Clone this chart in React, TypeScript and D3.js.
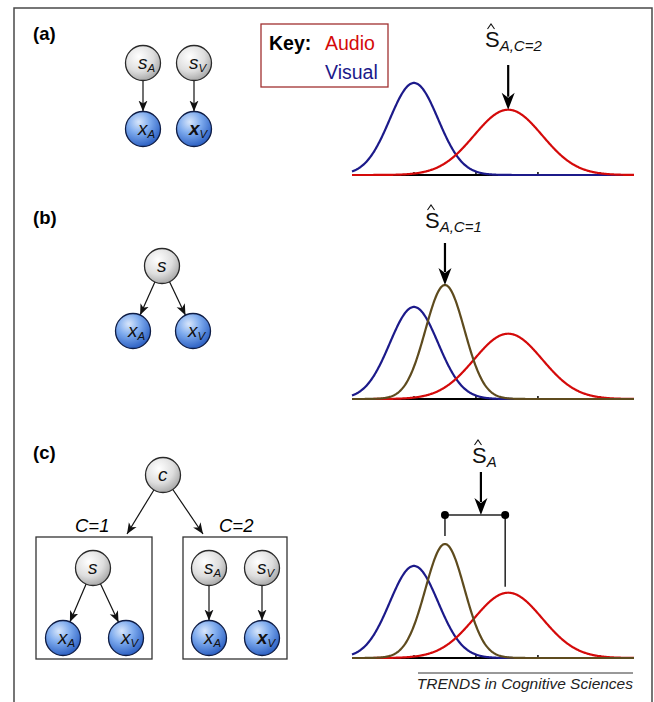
import React from 'react';
import * as d3 from 'd3';

// values
const panelLabels = ['(a)', '(b)', '(c)'];
const curveNames = ['Visual', 'Audio', 'Combined'];
const curveMeans = [0, 1.52, 0.5];
const curveSDs = [0.39, 0.55, 0.315];
const curveColors = ['#1c1a8a', '#d40a0a', '#5e4b1e'];
const panelCurves = [[0, 1], [0, 1, 2], [0, 1, 2]];
const xTicks = [0, 1, 2, 3];
const estimateSubs = ['A,C=2', 'A,C=1', 'A'];
const estimateValues = [1.52, 0.5, 1.08];
const keyLabels = ['Audio', 'Visual'];
const keyColors = ['#d40a0a', '#1c1a8a'];

const FONT = "'Liberation Sans', Arial, Helvetica, sans-serif";
const R = 17.5;

const baselines = [175, 399, 658];
const xScale = d3.scaleLinear().domain([-1, 3.55]).range([352, 634]);
const yScaleFor = (b: number) => d3.scaleLinear().domain([0, 1]).range([b, b - 90]);

const pdf = (x: number, m: number, s: number) =>
  Math.exp(-0.5 * ((x - m) / s) ** 2) / (s * Math.sqrt(2 * Math.PI));

const samples = d3.range(-1, 3.5501, 0.01);

const Node = ({ cx, cy, kind, main, sub, bold }: any) => (
  <g>
    <circle
      cx={cx}
      cy={cy}
      r={R}
      fill={kind === 'x' ? 'url(#gBlue)' : 'url(#gGrey)'}
      stroke={kind === 'x' ? '#0f1d45' : '#2a2a2a'}
      strokeWidth={1.3}
    />
    <text
      x={cx - 5}
      y={cy + 6}
      fontFamily={FONT}
      fontStyle="italic"
      fontSize={19}
      fill="#111">
      <tspan fontWeight={bold ? 'bold' : 'normal'}>{main}</tspan>
      {sub && (
        <tspan fontSize={11.5} dy={3}>
          {sub}
        </tspan>
      )}
    </text>
  </g>
);

const Edge = ({ x1, y1, x2, y2, trimStart = R, trimEnd = R }: any) => {
  const dx = x2 - x1;
  const dy = y2 - y1;
  const len = Math.sqrt(dx * dx + dy * dy);
  const ux = dx / len;
  const uy = dy / len;
  return (
    <line
      x1={x1 + ux * trimStart}
      y1={y1 + uy * trimStart}
      x2={x2 - ux * trimEnd}
      y2={y2 - uy * trimEnd}
      stroke="#111"
      strokeWidth={1.2}
      markerEnd="url(#ah)"
    />
  );
};

const BigArrow = ({ x, y1, y2 }: any) => {
  const hl = 17;
  const hw = 6.5;
  return (
    <g>
      <line x1={x} y1={y1} x2={x} y2={y2 - hl + 4} stroke="#000" strokeWidth={2.2} />
      <path
        d={`M${x},${y2} L${x - hw},${y2 - hl} L${x},${y2 - hl + 5} L${x + hw},${y2 - hl} Z`}
        fill="#000"
      />
    </g>
  );
};

// S with a hat, subscript in italics
const EstimateLabel = ({ x, y, sub }: any) => (
  <g fontFamily={FONT}>
    <path
      d={`M${x + 2.5},${y - 18} L${x + 6},${y - 23} L${x + 9.5},${y - 18}`}
      fill="none"
      stroke="#111"
      strokeWidth={1.1}
    />
    <text x={x} y={y} fontSize={22} fill="#111">
      S
      <tspan fontStyle="italic" fontSize={15} dy={4}>
        {sub}
      </tspan>
    </text>
  </g>
);

const Panel = ({ i }: any) => {
  const b = baselines[i];
  const y = yScaleFor(b);
  const line = d3
    .line<number>()
    .x(d => xScale(d))
    .y(d => y(d));
  return (
    <g>
      <line x1={xScale.range()[0]} x2={xScale.range()[1]} y1={b} y2={b} stroke="#000" strokeWidth={2} />
      {xTicks.map(t => (
        <line key={t} x1={xScale(t)} x2={xScale(t)} y1={b} y2={b - 3} stroke="#000" strokeWidth={1.5} />
      ))}
      {panelCurves[i].map(c => (
        <path
          key={curveNames[c]}
          d={line.y(d => y(pdf(d, curveMeans[c], curveSDs[c])))(samples) || ''}
          fill="none"
          stroke={curveColors[c]}
          strokeWidth={2.2}
        />
      ))}
    </g>
  );
};

const App = () => {
  const peak = (c: number, i: number) => yScaleFor(baselines[i])(pdf(curveMeans[c], curveMeans[c], curveSDs[c]));
  const barY = 515;
  const barL = xScale(curveMeans[2]);
  const barR = xScale(curveMeans[1]) - 3;
  return (
    <svg
      width={654}
      height={702}
      style={{ position: 'absolute', left: 0, top: 0, background: '#fff' }}>
      <defs>
        <radialGradient id="gGrey" cx="38%" cy="32%" r="70%">
          <stop offset="0%" stopColor="#ffffff" />
          <stop offset="60%" stopColor="#dedede" />
          <stop offset="100%" stopColor="#a9a9a9" />
        </radialGradient>
        <radialGradient id="gBlue" cx="38%" cy="30%" r="72%">
          <stop offset="0%" stopColor="#d8e6fb" />
          <stop offset="45%" stopColor="#7eabee" />
          <stop offset="100%" stopColor="#2b5fc2" />
        </radialGradient>
        <marker
          id="ah"
          markerUnits="userSpaceOnUse"
          markerWidth={12}
          markerHeight={10}
          refX={11}
          refY={5}
          orient="auto">
          <path d="M0,0.5 L11,5 L0,9.5 L3,5 Z" fill="#111" />
        </marker>
      </defs>

      {/* outer frame */}
      <path d="M14,712 L14,8 L652,8 L652,712" fill="none" stroke="#4a4a4a" strokeWidth={1.5} />

      {/* panel labels */}
      {panelLabels.map((l, i) => (
        <text key={l} x={33} y={[40, 224, 459][i]} fontFamily={FONT} fontWeight="bold" fontSize={18.5}>
          {l}
        </text>
      ))}

      {/* key */}
      <rect x={261} y={24} width={127} height={63} fill="#fff" stroke="#a03030" strokeWidth={1.3} />
      <text x={269} y={50} fontFamily={FONT} fontWeight="bold" fontSize={19.5}>
        Key:
      </text>
      {keyLabels.map((k, i) => (
        <text key={k} x={325} y={50 + i * 29} fontFamily={FONT} fontSize={19.5} fill={keyColors[i]}>
          {k}
        </text>
      ))}

      {/* (a) graph */}
      <Edge x1={143} y1={63} x2={143} y2={129} />
      <Edge x1={194} y1={63} x2={194} y2={129} />
      <Node cx={143} cy={63} kind="s" main="s" sub="A" />
      <Node cx={194} cy={63} kind="s" main="s" sub="V" />
      <Node cx={143} cy={129} kind="x" main="x" sub="A" />
      <Node cx={194} cy={129} kind="x" main="x" sub="V" bold />

      {/* (b) graph */}
      <Edge x1={162} y1={266} x2={133} y2={331} />
      <Edge x1={162} y1={266} x2={193} y2={331} />
      <Node cx={162} cy={266} kind="s" main="s" />
      <Node cx={133} cy={331} kind="x" main="x" sub="A" />
      <Node cx={193} cy={331} kind="x" main="x" sub="V" />

      {/* (c) graph */}
      <Edge x1={163} y1={475} x2={127} y2={534} trimEnd={0} />
      <Edge x1={163} y1={475} x2={203} y2={534} trimEnd={0} />
      <Node cx={163} cy={475} kind="s" main="c" />
      <text x={75} y={532} fontFamily={FONT} fontStyle="italic" fontSize={18.5}>
        C=1
      </text>
      <text x={219} y={532} fontFamily={FONT} fontStyle="italic" fontSize={18.5}>
        C=2
      </text>
      <rect x={36} y={537} width={116} height={122} fill="none" stroke="#333" strokeWidth={1.3} />
      <rect x={183} y={537} width={104} height={122} fill="none" stroke="#333" strokeWidth={1.3} />
      <Edge x1={93} y1={568} x2={63} y2={638} />
      <Edge x1={93} y1={568} x2={126} y2={638} />
      <Node cx={93} cy={568} kind="s" main="s" />
      <Node cx={63} cy={638} kind="x" main="x" sub="A" />
      <Node cx={126} cy={638} kind="x" main="x" sub="V" />
      <Edge x1={209} y1={568} x2={209} y2={638} />
      <Edge x1={262} y1={568} x2={262} y2={638} />
      <Node cx={209} cy={568} kind="s" main="s" sub="A" />
      <Node cx={262} cy={568} kind="s" main="s" sub="V" />
      <Node cx={209} cy={638} kind="x" main="x" sub="A" />
      <Node cx={262} cy={638} kind="x" main="x" sub="V" bold />

      {/* density panels */}
      {[0, 1, 2].map(i => (
        <Panel key={i} i={i} />
      ))}

      {/* estimates */}
      <EstimateLabel x={485} y={47} sub={estimateSubs[0]} />
      <BigArrow x={xScale(estimateValues[0])} y1={65} y2={peak(1, 0)} />

      <EstimateLabel x={425} y={228} sub={estimateSubs[1]} />
      <BigArrow x={xScale(estimateValues[1])} y1={243} y2={peak(2, 1)} />

      <EstimateLabel x={472} y={463} sub={estimateSubs[2]} />
      <BigArrow x={xScale(estimateValues[2])} y1={472} y2={barY} />
      <line x1={barL} x2={barR} y1={barY} y2={barY} stroke="#222" strokeWidth={1.5} />
      <line x1={barL} x2={barL} y1={barY} y2={peak(2, 2) - 8} stroke="#222" strokeWidth={1.5} />
      <line x1={barR} x2={barR} y1={barY} y2={peak(1, 2) - 6} stroke="#222" strokeWidth={1.5} />
      <circle cx={barL} cy={barY} r={4} fill="#000" />
      <circle cx={barR} cy={barY} r={4} fill="#000" />

      {/* source line */}
      <line x1={418} x2={633} y1={673} y2={673} stroke="#333" strokeWidth={1} />
      <text x={633} y={689} textAnchor="end" fontFamily={FONT} fontStyle="italic" fontSize={15.5} fill="#222">
        TRENDS in Cognitive Sciences
      </text>
    </svg>
  );
};

export default App;
